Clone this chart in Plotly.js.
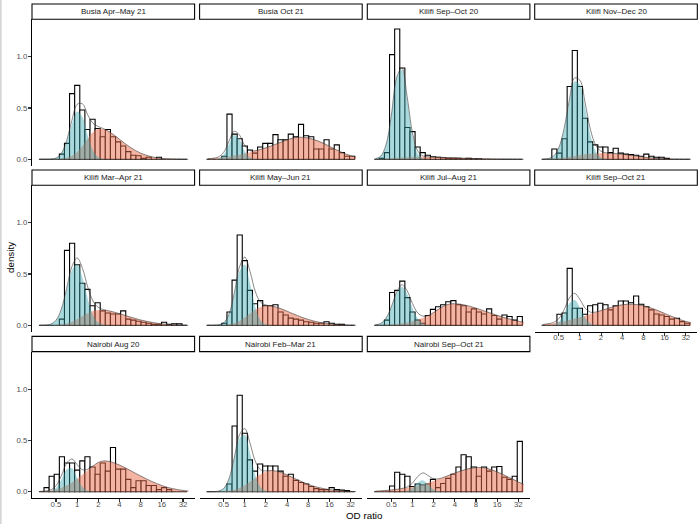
<!DOCTYPE html>
<html>
<head>
<meta charset="utf-8">
<script src="https://cdn.plot.ly/plotly-3.0.1.min.js"></script>
<style>
html,body{margin:0;padding:0;background:#ffffff;}
#chart{width:700px;height:524px;}
</style>
</head>
<body>
<div id="chart"></div>
<script>
// ---------------- DATA ----------------
const panelNames = [
  "Busia Apr–May 21", "Busia Oct 21", "Kilifi Sep–Oct 20", "Kilifi Nov–Dec 20",
  "Kilifi Mar–Apr 21", "Kilifi May–Jun 21", "Kilifi Jul–Aug 21", "Kilifi Sep–Oct 21",
  "Nairobi Aug 20", "Nairobi Feb–Mar 21", "Nairobi Sep–Oct 21"
];

// histogram bin mid-points, log2(OD ratio)
const binMidLog2 = [-1.687,-1.445,-1.204,-0.963,-0.721,-0.480,-0.239,0.003,0.244,0.485,
  0.727,0.968,1.209,1.450,1.692,1.933,2.174,2.416,2.657,2.898,
  3.139,3.381,3.622,3.863,4.105,4.346,4.587,4.829,5.070];
const binWidthLog2 = 0.2413;

// grid on which the fitted component densities are read, log2(OD ratio)
const densityGridLog2 = [-1.75,-1.5,-1.25,-1.0,-0.75,-0.5,-0.25,0,0.25,0.5,0.75,1.0,1.25,1.5,1.75,
  2.0,2.25,2.5,2.75,3.0,3.25,3.5,3.75,4.0,4.25,4.5,4.75,5.0,5.25];

const odTickValues = [0.5, 1, 2, 4, 8, 16, 32];
const odTickLabels = ["0.5", "1", "2", "4", "8", "16", "32"];
const densityTickValues = [0, 0.5, 1.0];
const densityTickLabels = ["0.0", "0.5", "1.0"];
const xAxisTitle = "OD ratio";
const yAxisTitle = "density";

// histogram densities per panel (one value per bin)
const histBusiaAprMay21 = [0,0,0,0,0.05,0.155,0.64,0.72,0.48,0.29,0.39,0.30,0.22,0.29,0.22,0.17,0.13,0.075,0.04,0.035,0.01,0.02,0,0.02,0,0,0,0,0];
const histBusiaOct21    = [0,0,0,0.03,0.44,0.245,0.2,0.13,0.09,0.06,0.12,0.155,0.155,0.24,0.19,0.19,0.245,0.22,0.34,0.23,0.22,0.1,0.1,0.19,0.1,0.14,0.065,0.03,0.03];
const histKilifiSepOct20 = [0,0.01,0.065,1.02,1.27,0.89,0.31,0.27,0.12,0.065,0.04,0.025,0.02,0.015,0.01,0.01,0.01,0.005,0.01,0.005,0.005,0,0,0,0,0,0,0,0];
const histKilifiNovDec20 = [0,0,0.1,0.06,0.2,0.71,1.06,0.71,0.40,0.17,0.14,0.12,0.12,0.065,0.107,0.06,0.05,0.045,0.04,0.03,0.05,0.03,0.02,0.02,0.01,0,0,0,0];
const histKilifiMarApr21 = [0,0,0,0,0.06,0.73,0.8,0.59,0.41,0.35,0.19,0.22,0.14,0.12,0.11,0.11,0.14,0.06,0.05,0.04,0.03,0.02,0.01,0.01,0.03,0.01,0.015,0.015,0];
const histKilifiMayJun21 = [0,0,0,0.02,0.13,0.44,0.88,0.63,0.34,0.21,0.24,0.19,0.19,0.2,0.13,0.1,0.07,0.06,0.05,0.035,0.03,0.02,0.02,0.035,0.02,0.01,0.01,0,0];
const histKilifiJulAug21 = [0,0,0.05,0.32,0.34,0.43,0.27,0.13,0.05,0.02,0.095,0.155,0.18,0.2,0.23,0.24,0.2,0.19,0.13,0.16,0.13,0.11,0.16,0.095,0.06,0.1,0.085,0.05,0.085];
const histKilifiSepOct21 = [0,0,0,0.107,0.12,0.555,0.166,0.166,0.107,0.19,0.2,0.215,0.2,0.15,0.19,0.237,0.237,0.22,0.286,0.205,0.18,0.15,0.11,0.1,0.085,0.06,0.068,0.036,0.02];
const histNairobiAug20    = [0,0.04,0.15,0.17,0.34,0.28,0.28,0.21,0.3,0.34,0.24,0.17,0.28,0.2,0.43,0.22,0.22,0.12,0.04,0.107,0.107,0.06,0.06,0.02,0.04,0.02,0,0,0];
const histNairobiFebMar21 = [0,0,0,0,0.075,0.64,0.94,0.57,0.31,0.2,0.27,0.25,0.25,0.25,0.2,0.15,0.17,0.11,0.09,0.075,0.05,0.03,0.02,0.02,0.04,0.02,0.015,0.01,0];
const histNairobiSepOct21 = [0,0,0,0.055,0.19,0.17,0.15,0.05,0.075,0.065,0.075,0.12,0.04,0.08,0.13,0.17,0.24,0.36,0.34,0.24,0.15,0.24,0.2,0.24,0.245,0.14,0.12,0.15,0.49];

// low-OD component (blue) density per panel, on densityGridLog2
const lowBusiaAprMay21 = [0,0,0.001,0.01,0.051,0.165,0.344,0.466,0.41,0.233,0.086,0.021,0.003,0,0,0,0,0,0,0,0,0,0,0,0,0,0,0,0];
const lowBusiaOct21    = [0,0,0.007,0.045,0.146,0.237,0.192,0.078,0.016,0.002,0,0,0,0,0,0,0,0,0,0,0,0,0,0,0,0,0,0,0];
const lowKilifiSepOct20 = [0.003,0.026,0.135,0.418,0.78,0.872,0.586,0.236,0.057,0.008,0.001,0,0,0,0,0,0,0,0,0,0,0,0,0,0,0,0,0,0];
const lowKilifiNovDec20 = [0.0006,0.0045,0.025,0.10,0.28,0.55,0.76,0.73,0.50,0.235,0.079,0.018,0.003,0,0,0,0,0,0,0,0,0,0,0,0,0,0,0,0];
const lowKilifiMarApr21 = [0,0.0015,0.01,0.046,0.15,0.338,0.536,0.596,0.465,0.255,0.098,0.026,0.005,0.0007,0,0,0,0,0,0,0,0,0,0,0,0,0,0,0];
const lowKilifiMayJun21 = [0,0.0002,0.0027,0.021,0.098,0.289,0.526,0.59,0.409,0.175,0.046,0.0075,0.0008,0,0,0,0,0,0,0,0,0,0,0,0,0,0,0,0];
const lowKilifiJulAug21 = [0.0028,0.016,0.065,0.172,0.308,0.375,0.308,0.172,0.065,0.016,0.0028,0,0,0,0,0,0,0,0,0,0,0,0,0,0,0,0,0,0];
const lowKilifiSepOct21 = [0,0.0007,0.006,0.034,0.109,0.212,0.247,0.173,0.073,0.018,0.003,0,0,0,0,0,0,0,0,0,0,0,0,0,0,0,0,0,0];
const lowNairobiAug20    = [0,0.0006,0.006,0.035,0.116,0.216,0.229,0.137,0.046,0.009,0.001,0,0,0,0,0,0,0,0,0,0,0,0,0,0,0,0,0,0];
const lowNairobiFebMar21 = [0,0.0004,0.004,0.028,0.116,0.309,0.519,0.553,0.374,0.16,0.043,0.0074,0.0008,0,0,0,0,0,0,0,0,0,0,0,0,0,0,0,0];
const lowNairobiSepOct21 = [0,0,0,0,0,0.0007,0.0073,0.036,0.088,0.11,0.067,0.021,0.0031,0.0002,0,0,0,0,0,0,0,0,0,0,0,0,0,0,0];

// high-OD component (red) density per panel, on densityGridLog2
const highBusiaAprMay21 = [0,0,0,0.002,0.006,0.015,0.035,0.07,0.13,0.2,0.265,0.298,0.295,0.27,0.235,0.195,0.155,0.118,0.086,0.06,0.04,0.025,0.015,0.008,0.004,0.002,0.001,0,0];
const highBusiaOct21    = [0.006,0.01,0.015,0.021,0.028,0.036,0.045,0.056,0.068,0.082,0.096,0.112,0.13,0.15,0.17,0.19,0.205,0.214,0.214,0.207,0.193,0.175,0.152,0.127,0.1,0.075,0.053,0.035,0.022];
const highKilifiSepOct20 = [0.002,0.004,0.007,0.01,0.014,0.018,0.021,0.023,0.024,0.024,0.023,0.022,0.02,0.018,0.016,0.014,0.012,0.01,0.008,0.006,0.005,0.004,0.003,0.002,0.0015,0.001,0.0005,0.0003,0];
const highKilifiNovDec20 = [0,0.002,0.005,0.01,0.017,0.025,0.033,0.041,0.048,0.054,0.058,0.06,0.06,0.058,0.054,0.049,0.043,0.036,0.029,0.022,0.016,0.011,0.007,0.004,0.002,0.001,0,0,0];
const highKilifiMarApr21 = [0,0,0.001,0.003,0.008,0.018,0.035,0.06,0.09,0.118,0.138,0.148,0.148,0.14,0.128,0.113,0.097,0.081,0.066,0.052,0.04,0.03,0.021,0.014,0.009,0.005,0.003,0.001,0];
const highKilifiMayJun21 = [0,0,0.001,0.003,0.008,0.02,0.042,0.075,0.115,0.152,0.178,0.19,0.188,0.176,0.158,0.137,0.115,0.094,0.074,0.057,0.042,0.03,0.021,0.014,0.009,0.005,0.003,0.001,0];
const highKilifiJulAug21 = [0.001,0.002,0.004,0.007,0.012,0.019,0.028,0.04,0.055,0.073,0.093,0.125,0.16,0.19,0.207,0.21,0.206,0.196,0.183,0.167,0.15,0.132,0.114,0.097,0.08,0.065,0.052,0.04,0.03];
const highKilifiSepOct21 = [0.008,0.014,0.021,0.03,0.04,0.052,0.065,0.079,0.094,0.11,0.126,0.143,0.16,0.176,0.19,0.2,0.205,0.205,0.2,0.19,0.176,0.158,0.138,0.116,0.094,0.073,0.054,0.038,0.025];
const highNairobiAug20    = [0.003,0.006,0.012,0.022,0.038,0.06,0.09,0.127,0.168,0.21,0.25,0.285,0.3,0.295,0.28,0.26,0.235,0.208,0.18,0.153,0.127,0.102,0.08,0.06,0.043,0.03,0.02,0.012,0.007];
const highNairobiFebMar21 = [0,0,0.001,0.003,0.008,0.018,0.035,0.062,0.097,0.135,0.17,0.195,0.205,0.2,0.185,0.163,0.139,0.115,0.092,0.071,0.054,0.04,0.029,0.02,0.013,0.008,0.005,0.003,0.001];
const highNairobiSepOct21 = [0.005,0.008,0.012,0.017,0.023,0.03,0.038,0.048,0.06,0.073,0.088,0.105,0.123,0.142,0.162,0.182,0.2,0.216,0.228,0.235,0.236,0.228,0.213,0.193,0.17,0.145,0.12,0.095,0.072];

const histByPanel = [histBusiaAprMay21, histBusiaOct21, histKilifiSepOct20, histKilifiNovDec20,
  histKilifiMarApr21, histKilifiMayJun21, histKilifiJulAug21, histKilifiSepOct21,
  histNairobiAug20, histNairobiFebMar21, histNairobiSepOct21];
const lowByPanel = [lowBusiaAprMay21, lowBusiaOct21, lowKilifiSepOct20, lowKilifiNovDec20,
  lowKilifiMarApr21, lowKilifiMayJun21, lowKilifiJulAug21, lowKilifiSepOct21,
  lowNairobiAug20, lowNairobiFebMar21, lowNairobiSepOct21];
const highByPanel = [highBusiaAprMay21, highBusiaOct21, highKilifiSepOct20, highKilifiNovDec20,
  highKilifiMarApr21, highKilifiMayJun21, highKilifiJulAug21, highKilifiSepOct21,
  highNairobiAug20, highNairobiFebMar21, highNairobiSepOct21];

// ---------------- LAYOUT / STYLE ----------------
const W = 700, H = 524;
const colLeft = [32, 199.6, 367.3, 534.7];
const panelW = 162.6;
const rowTop = [19.25, 185.25, 351.65];
const panelH = 146.7;
const stripH = 15.3;
const xRange = [-2.134, 5.547];
const yRange = [-0.065, 1.365];
const FONT = "Liberation Sans, Arial, Helvetica, sans-serif";
const lowFill = "rgba(50,165,175,0.42)";
const highFill = "rgba(234,105,72,0.5)";

const tickValsLog2 = odTickValues.map(v => Math.log2(v));
const traces = [];
const layout = {
  width: W, height: H,
  margin: {l: 0, r: 0, t: 0, b: 0, pad: 0},
  paper_bgcolor: "#ffffff", plot_bgcolor: "rgba(0,0,0,0)",
  showlegend: false,
  font: {family: FONT, size: 8, color: "#4d4d4d"},
  shapes: [], annotations: []
};

panelNames.forEach((name, i) => {
  const r = Math.floor(i / 4), c = i % 4;
  const s = i === 0 ? "" : String(i + 1);
  const showX = (i >= 8) || (i === 7);
  const showY = (c === 0);
  layout["xaxis" + s] = {
    domain: [colLeft[c] / W, (colLeft[c] + panelW) / W],
    range: xRange, anchor: "y" + s, fixedrange: true,
    showgrid: false, zeroline: false,
    showline: showX, linecolor: "#000000", linewidth: 1.07,
    ticks: showX ? "outside" : "", ticklen: 3, tickwidth: 1.07, tickcolor: "#333333",
    tickmode: "array", tickvals: tickValsLog2, ticktext: odTickLabels,
    ticklabelstandoff: -5,
    showticklabels: showX, tickfont: {family: FONT, size: 7.8, color: "#4d4d4d"}
  };
  layout["yaxis" + s] = {
    domain: [1 - (rowTop[r] + panelH) / H, 1 - rowTop[r] / H],
    range: yRange, anchor: "x" + s, fixedrange: true,
    showgrid: false, zeroline: false,
    showline: showY, linecolor: "#000000", linewidth: 1.07,
    ticks: showY ? "outside" : "", ticklen: 3, tickwidth: 1.07, tickcolor: "#333333",
    tickmode: "array", tickvals: densityTickValues, ticktext: densityTickLabels,
    ticklabelstandoff: -1,
    showticklabels: showY, tickfont: {family: FONT, size: 7.8, color: "#4d4d4d"}
  };

  const xa = "x" + s, ya = "y" + s;
  traces.push({
    type: "bar", x: binMidLog2, y: histByPanel[i], width: binWidthLog2,
    xaxis: xa, yaxis: ya, hoverinfo: "skip",
    marker: {color: "#ffffff", line: {color: "#000000", width: 1.1}}
  });
  traces.push({
    type: "scatter", mode: "lines", x: densityGridLog2, y: highByPanel[i],
    xaxis: xa, yaxis: ya, fill: "tozeroy", fillcolor: highFill, hoverinfo: "skip",
    line: {color: "rgba(0,0,0,0)", width: 0, shape: "spline", smoothing: 1}
  });
  traces.push({
    type: "scatter", mode: "lines", x: densityGridLog2, y: lowByPanel[i],
    xaxis: xa, yaxis: ya, fill: "tozeroy", fillcolor: lowFill, hoverinfo: "skip",
    line: {color: "rgba(0,0,0,0)", width: 0, shape: "spline", smoothing: 1}
  });
  traces.push({
    type: "scatter", mode: "lines", x: densityGridLog2,
    y: lowByPanel[i].map((v, k) => v + highByPanel[i][k]),
    xaxis: xa, yaxis: ya, hoverinfo: "skip",
    line: {color: "#3a3a3a", width: 0.6, shape: "spline", smoothing: 1}
  });

  // facet strip
  layout.shapes.push({
    type: "rect", xref: "paper", yref: "paper",
    x0: colLeft[c] / W, x1: (colLeft[c] + panelW) / W,
    y0: 1 - rowTop[r] / H, y1: 1 - (rowTop[r] - stripH) / H,
    line: {color: "#000000", width: 1.07}, fillcolor: "#ffffff"
  });
  layout.annotations.push({
    xref: "paper", yref: "paper", showarrow: false,
    x: (colLeft[c] + panelW / 2) / W, y: 1 - (rowTop[r] - stripH / 2) / H,
    xanchor: "center", yanchor: "middle", text: name,
    font: {family: FONT, size: 8, color: "#1a1a1a"}
  });
});

// thin grey border on the left edge of the picture
layout.shapes.push({type: "rect", xref: "paper", yref: "paper", x0: 0, x1: 1.7 / W, y0: 0, y1: 1,
  line: {width: 0}, fillcolor: "#d6d6d6"});

layout.annotations.push({
  xref: "paper", yref: "paper", showarrow: false, x: 10 / W, y: 1 - 258 / H,
  xanchor: "center", yanchor: "middle", textangle: -90, text: yAxisTitle,
  font: {family: FONT, size: 9.8, color: "#000000"}
});
layout.annotations.push({
  xref: "paper", yref: "paper", showarrow: false, x: 364.5 / W, y: 1 - 515.5 / H,
  xanchor: "center", yanchor: "middle", text: xAxisTitle,
  font: {family: FONT, size: 9.8, color: "#000000"}
});

Plotly.newPlot("chart", traces, layout, {staticPlot: true, displayModeBar: false});
</script>
</body>
</html>
